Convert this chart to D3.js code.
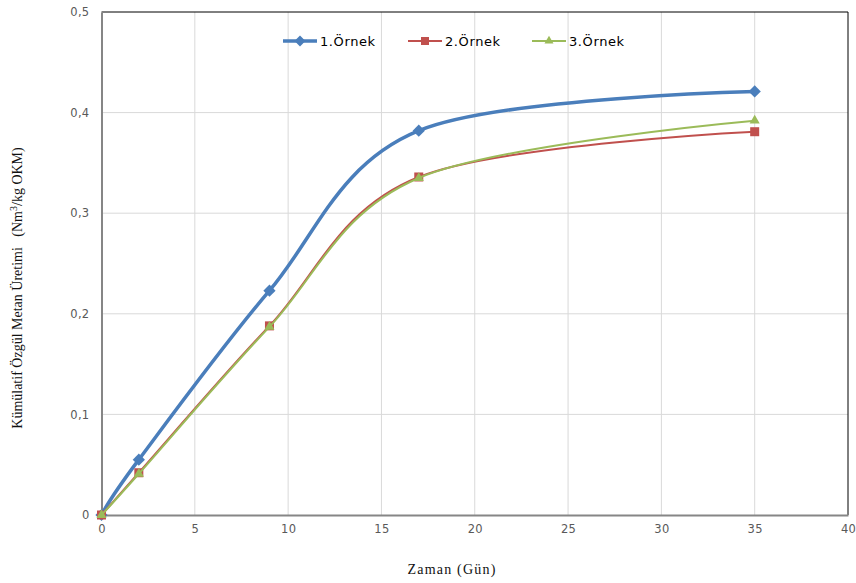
<!DOCTYPE html>
<html lang="tr">
<head>
<meta charset="UTF-8">
<script src="https://d3js.org/d3.v7.min.js"></script>
<style>
  body { margin: 0; background: #fff; }
  .tick text { font-family: "DejaVu Sans", Verdana, sans-serif; font-size: 11.5px; fill: #595959; letter-spacing: 0.3px; }
  .title { font-family: "Liberation Serif", "Times New Roman", serif; font-size: 14px; font-weight: normal; fill: #111; }
  .legend text { font-family: "DejaVu Sans", Verdana, sans-serif; font-size: 13px; fill: #000; letter-spacing: 0.6px; }
</style>
</head>
<body>
<div id="chart"></div>
<script>
// data
const days = [0, 2, 9, 17, 35];
const ornek1 = [0, 0.055, 0.223, 0.382, 0.421];
const ornek2 = [0, 0.042, 0.188, 0.336, 0.381];
const ornek3 = [0, 0.041, 0.187, 0.335, 0.392];
const xTicks = [0, 5, 10, 15, 20, 25, 30, 35, 40];
const yTicks = [0, 0.1, 0.2, 0.3, 0.4, 0.5];

const series = [
  {name: "1.Örnek", values: ornek1, color: "#4A7EBB", width: 3.5, marker: "diamond"},
  {name: "2.Örnek", values: ornek2, color: "#C0504D", width: 2, marker: "square"},
  {name: "3.Örnek", values: ornek3, color: "#9BBB59", width: 2, marker: "triangle"}
];

const W = 856, H = 583;
const margin = {top: 12, right: 8, bottom: 68, left: 101.5};
const width = W - margin.left - margin.right;
const height = H - margin.top - margin.bottom;

const svg = d3.select("#chart").append("svg")
  .attr("width", W).attr("height", H);
const g = svg.append("g")
  .attr("transform", `translate(${margin.left},${margin.top})`);

const x = d3.scaleLinear().domain([0, 40]).range([0, width]);
const y = d3.scaleLinear().domain([0, 0.5]).range([height, 0]);

// gridlines
g.append("g").selectAll("line").data(xTicks.slice(1, -1)).enter().append("line")
  .attr("x1", d => x(d)).attr("x2", d => x(d))
  .attr("y1", 0).attr("y2", height)
  .attr("stroke", "#d9d9d9").attr("stroke-width", 1);
g.append("g").selectAll("line").data(yTicks.slice(1, -1)).enter().append("line")
  .attr("y1", d => y(d)).attr("y2", d => y(d))
  .attr("x1", 0).attr("x2", width)
  .attr("stroke", "#d9d9d9").attr("stroke-width", 1);

// plot frame (top + right)
g.append("path")
  .attr("d", `M0,0H${width}V${height}`)
  .attr("fill", "none").attr("stroke", "#000").attr("stroke-width", 1);

// axes
const fmt = d => d === 0 ? "0" : d3.format(".1f")(d).replace(".", ",");
const xAxis = g.append("g").attr("transform", `translate(0,${height})`)
  .call(d3.axisBottom(x).tickValues(xTicks).tickSize(0).tickPadding(10).tickFormat(d3.format("d")));
const yAxis = g.append("g")
  .call(d3.axisLeft(y).tickValues(yTicks).tickSize(0).tickPadding(12).tickFormat(fmt));
[xAxis, yAxis].forEach(a => a.select(".domain").attr("stroke", "#868686").attr("stroke-width", 2));

// lines
const line = d3.line()
  .x(d => x(d[0])).y(d => y(d[1]))
  .curve(d3.curveCardinal.tension(0));

function marker(sel, type, color, size) {
  if (type === "diamond") {
    const r = size * 0.68;
    sel.append("path").attr("d", `M0,${-r}L${r},0L0,${r}L${-r},0Z`)
      .attr("fill", color);
  } else if (type === "square") {
    sel.append("rect").attr("x", -size / 2).attr("y", -size / 2)
      .attr("width", size).attr("height", size).attr("fill", color);
  } else {
    sel.append("path").attr("d", d3.symbol(d3.symbolTriangle, size * size * 0.55)())
      .attr("fill", color);
  }
}

series.forEach(s => {
  const pts = days.map((d, i) => [d, s.values[i]]);
  g.append("path").datum(pts)
    .attr("d", line)
    .attr("fill", "none")
    .attr("stroke", s.color)
    .attr("stroke-width", s.width);
  g.append("g").selectAll("g").data(pts).enter().append("g")
    .attr("transform", d => `translate(${x(d[0])},${y(d[1])})`)
    .each(function() { marker(d3.select(this), s.marker, s.color, 9); });
});

// legend
const legendX = [283, 408, 532];
const legend = svg.append("g").attr("class", "legend");
series.forEach((s, i) => {
  const lg = legend.append("g").attr("transform", `translate(${legendX[i]},41)`);
  lg.append("line").attr("x1", 0).attr("x2", 34)
    .attr("stroke", s.color).attr("stroke-width", s.width);
  const m = lg.append("g").attr("transform", "translate(17,0)");
  marker(m, s.marker, s.color, 8);
  lg.append("text").attr("x", 37).attr("dy", "0.35em").text(s.name);
});

// axis titles
svg.append("text").attr("class", "title")
  .attr("x", 452).attr("y", 574)
  .attr("text-anchor", "middle")
  .attr("letter-spacing", "1.2px")
  .text("Zaman (Gün)");

svg.append("text").attr("class", "title")
  .attr("transform", "translate(22,288) rotate(-90)")
  .attr("text-anchor", "middle")
  .html("Kümülatif Özgül Metan Üretimi&#160;&#160; (Nm<tspan dy='-5' font-size='10'>3</tspan><tspan dy='5'>/kg OKM)</tspan>");
</script>
</body>
</html>
